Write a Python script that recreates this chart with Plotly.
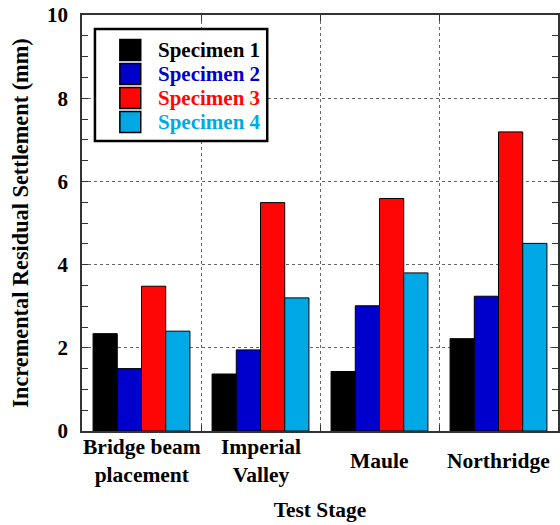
import plotly.graph_objects as go

# Test stages and incremental residual settlement (mm) per specimen
stages = ["Bridge beam<br>placement", "Imperial<br>Valley", "Maule", "Northridge"]
specimens = ["Specimen 1", "Specimen 2", "Specimen 3", "Specimen 4"]
spec1 = [2.34, 1.37, 1.43, 2.22]
spec2 = [1.50, 1.95, 3.01, 3.24]
spec3 = [3.48, 5.49, 5.59, 7.19]
spec4 = [2.40, 3.20, 3.80, 4.51]
series = [spec1, spec2, spec3, spec4]
colors = ["#000000", "#0000CD", "#FF0606", "#00A9E6"]
y_ticks = [0, 2, 4, 6, 8, 10]

FONT = "Liberation Serif"
W, H = 560, 525
ML, MR, MT, MB = 82, 0, 15, 94
PW, PH = W - ML - MR, H - MT - MB


def px_x(p):
    return (p - ML) / PW


def px_y(p):
    return (H - MB - p) / PH


fig = go.Figure()
for name, vals, col in zip(specimens, series, colors):
    fig.add_trace(go.Bar(
        x=list(range(len(stages))), y=vals, name=name,
        marker=dict(color=col, line=dict(color="#000000", width=1)),
        showlegend=False,
    ))

# Category labels, centred vertically under each group
for i, s in enumerate(stages):
    fig.add_annotation(
        x=i, xref="x", y=px_y(461), yref="paper",
        text="<b>%s</b>" % s, showarrow=False,
        xanchor="center", yanchor="middle",
        font=dict(family=FONT, size=21.5, color="#000000"),
    )

# Boxed legend with square swatches
fig.add_shape(type="rect", xref="paper", yref="paper",
              x0=px_x(95), x1=px_x(268), y0=px_y(141), y1=px_y(29),
              line=dict(color="#000000", width=2.5), fillcolor="#FFFFFF")
row_centres = [50, 74, 98, 122]
for name, col, cy in zip(specimens, colors, row_centres):
    fig.add_shape(type="rect", xref="paper", yref="paper",
                  x0=px_x(120), x1=px_x(141), y0=px_y(cy + 10.5), y1=px_y(cy - 10.5),
                  line=dict(color="#000000", width=1.5), fillcolor=col)
    fig.add_annotation(
        x=px_x(156), xref="paper", y=px_y(cy), yref="paper",
        text="<b>%s</b>" % name, showarrow=False,
        xanchor="left", yanchor="middle",
        font=dict(family=FONT, size=21, color=col),
    )

fig.update_layout(
    width=W, height=H,
    margin=dict(l=ML, r=MR, t=MT, b=MB),
    paper_bgcolor="#FFFFFF", plot_bgcolor="#FFFFFF",
    barmode="group", bargap=0.186, bargroupgap=0,
    font=dict(family=FONT, size=20, color="#000000"),
    showlegend=False,
)

fig.update_xaxes(
    range=[-0.5, len(stages) - 0.5],
    tickvals=[i + 0.5 for i in range(len(stages) - 1)],
    ticktext=["" for _ in range(len(stages) - 1)],
    showticklabels=False,
    ticks="inside", ticklen=6, tickcolor="#333333",
    showgrid=True, gridcolor="#666666", griddash="dot", gridwidth=1,
    showline=True, linecolor="#333333", linewidth=1.5, mirror="ticks",
    zeroline=False,
    title=dict(text="<b>Test Stage</b>", standoff=70,
               font=dict(family=FONT, size=21.4)),
)

fig.update_yaxes(
    range=[0, 10],
    tickvals=y_ticks, ticktext=["<b>%d</b>" % v for v in y_ticks],
    ticks="inside", ticklen=6, tickcolor="#333333",
    minor=dict(dtick=0.5, ticks="inside", ticklen=6, tickcolor="#333333", showgrid=False),
    ticklabelstandoff=8,
    tickfont=dict(family=FONT, size=21),
    showgrid=True, gridcolor="#666666", griddash="dot", gridwidth=1,
    showline=True, linecolor="#333333", linewidth=1.5, mirror="ticks",
    zeroline=False,
    title=dict(text="<b>Incremental Residual Settlement (mm)</b>", standoff=12,
               font=dict(family=FONT, size=22.3)),
)

fig.write_html("out.html")
